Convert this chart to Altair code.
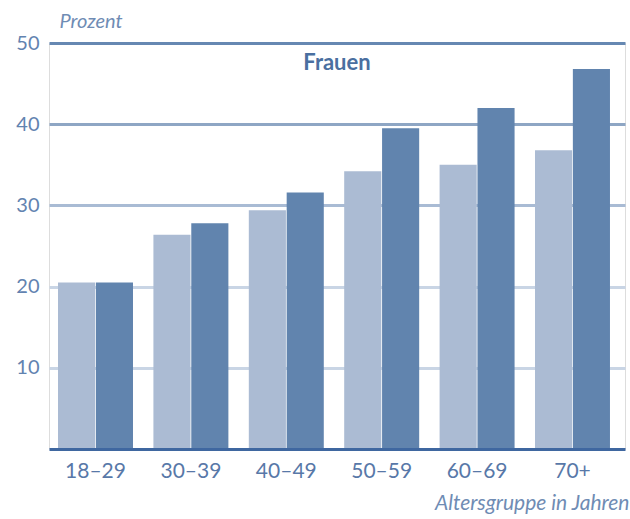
import altair as alt
import pandas as pd

groups = ["18–29", "30–39", "40–49", "50–59", "60–69", "70+"]
series = ["Reihe 1", "Reihe 2"]
values_1 = [20.5, 26.4, 29.4, 34.2, 35.0, 36.8]
values_2 = [20.5, 27.8, 31.6, 39.5, 42.0, 46.8]
y_ticks = [10, 20, 30, 40, 50]

rows = []
for g, a, b in zip(groups, values_1, values_2):
    rows.append({"gruppe": g, "reihe": series[0], "wert": a})
    rows.append({"gruppe": g, "reihe": series[1], "wert": b})
df = pd.DataFrame(rows)

FONT = "Lato"
grid_expr = ("datum.value == 50 ? '#6688b2' : datum.value == 40 ? '#8ea6c4' : "
             "datum.value == 30 ? '#a9bbd4' : '#c9d5e5'")

bars = alt.Chart(df).mark_bar().encode(
    x=alt.X("gruppe:N", sort=groups,
            scale=alt.Scale(paddingInner=0.214, paddingOuter=0.126, align=0.375),
            axis=alt.Axis(title="Altersgruppe in Jahren", labelAngle=0,
                          labelFont=FONT, labelFontSize=21, labelColor="#5878a8",
                          labelPadding=11, ticks=False, domainColor="#3f67a0",
                          domainWidth=3, grid=False, zindex=1,
                          titleFont=FONT, titleFontSize=21, titleFontStyle="italic",
                          titleFontWeight="normal", titleColor="#6f8cb4",
                          titleAlign="right", titleAnchor="end", titleX=580,
                          titleY=54, titleBaseline="middle")),
    xOffset=alt.XOffset("reihe:N", sort=series, scale=alt.Scale(paddingInner=0.02)),
    y=alt.Y("wert:Q", scale=alt.Scale(domain=[0, 50], nice=False),
            axis=alt.Axis(title="Prozent", values=y_ticks, labelFont=FONT,
                          labelFontSize=20, labelColor="#6283b0", labelPadding=10,
                          ticks=False, domain=False,
                          gridColor={"expr": grid_expr}, gridWidth=3,
                          titleFont=FONT, titleFontSize=20, titleFontStyle="italic",
                          titleFontWeight="normal", titleColor="#6f8cb4",
                          titleAngle=0, titleAlign="left", titleX=10, titleY=-22,
                          titleBaseline="middle")),
    color=alt.Color("reihe:N", sort=series,
                    scale=alt.Scale(domain=series, range=["#abbbd3", "#6184ae"]),
                    legend=None),
)

chart = bars.properties(
    width=576, height=406,
    title=alt.TitleParams("Frauen", font=FONT, fontSize=22, fontWeight="bold",
                          color="#4a6fa0", anchor="middle", offset=-64),
    autosize=alt.AutoSizeParams(type="none"),
    padding={"left": 49, "top": 43, "right": 5, "bottom": 70},
).configure_view(stroke=None).configure(background="white")

chart.save("out.html", embed_options={"renderer": "svg", "actions": False})
